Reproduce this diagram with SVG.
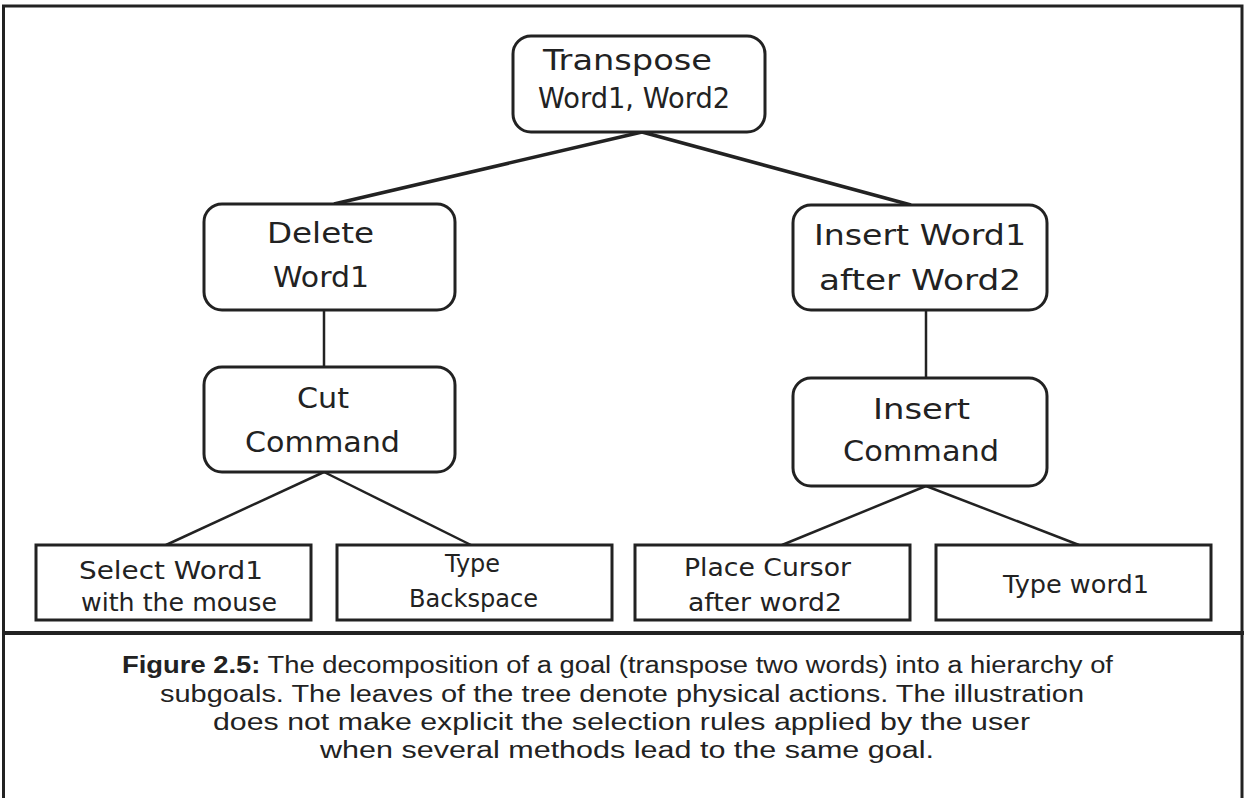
<svg xmlns="http://www.w3.org/2000/svg" width="1246" height="798" viewBox="0 0 1246 798">
<style>
.frame{fill:none;stroke:#222;stroke-width:3}
.sep{stroke:#222;stroke-width:4}
.node{fill:#fff;stroke:#222;stroke-width:3}
.leaf{fill:#fff;stroke:#222;stroke-width:3}
.edge{stroke:#222;stroke-width:2.5;fill:none}
.edgeT{stroke:#222;stroke-width:3.5;fill:none}
.nt{font-family:"DejaVu Sans","Liberation Sans",sans-serif;font-size:29px;fill:#222}
.lt{font-family:"DejaVu Sans","Liberation Sans",sans-serif;font-size:24px;fill:#222}
.cap{font-family:"Liberation Sans",Arial,sans-serif;font-size:23px;fill:#222}
</style>
<rect x="0" y="0" width="1246" height="798" fill="#fff"/>
<rect class="frame" x="3.5" y="6" width="1238.5" height="800"/>
<line class="sep" x1="2" y1="633" x2="1244" y2="633"/>
<g id="connectors">
<line class="edgeT" x1="642" y1="132" x2="334" y2="204"/>
<line class="edgeT" x1="642" y1="132" x2="911" y2="205"/>
<line class="edge" x1="324" y1="310" x2="324" y2="367"/>
<line class="edge" x1="926" y1="310" x2="926" y2="378"/>
<line class="edge" x1="324" y1="472" x2="166" y2="545"/>
<line class="edge" x1="324" y1="472" x2="471" y2="545"/>
<line class="edge" x1="926" y1="486" x2="782" y2="545"/>
<line class="edge" x1="926" y1="486" x2="1079" y2="545"/>
</g>
<g id="n-transpose">
<rect class="node" x="513" y="36" width="252" height="96" rx="18"/>
<text class="nt" x="543" y="70" textLength="169" lengthAdjust="spacingAndGlyphs">Transpose</text>
<text class="nt" x="538" y="108" textLength="192" lengthAdjust="spacingAndGlyphs">Word1, Word2</text>
</g>
<g id="n-delete">
<rect class="node" x="204" y="204" width="251" height="106" rx="18"/>
<text class="nt" x="267" y="243" textLength="107" lengthAdjust="spacingAndGlyphs">Delete</text>
<text class="nt" x="273" y="287" textLength="96" lengthAdjust="spacingAndGlyphs">Word1</text>
</g>
<g id="n-insertword">
<rect class="node" x="793" y="205" width="254" height="105" rx="18"/>
<text class="nt" x="814" y="245" textLength="212" lengthAdjust="spacingAndGlyphs">Insert Word1</text>
<text class="nt" x="819" y="290" textLength="202" lengthAdjust="spacingAndGlyphs">after Word2</text>
</g>
<g id="n-cut">
<rect class="node" x="204" y="367" width="251" height="105" rx="18"/>
<text class="nt" x="297" y="408" textLength="52" lengthAdjust="spacingAndGlyphs">Cut</text>
<text class="nt" x="245" y="452" textLength="155" lengthAdjust="spacingAndGlyphs">Command</text>
</g>
<g id="n-insertcmd">
<rect class="node" x="793" y="378" width="254" height="108" rx="18"/>
<text class="nt" x="873" y="419" textLength="97" lengthAdjust="spacingAndGlyphs">Insert</text>
<text class="nt" x="843" y="461" textLength="156" lengthAdjust="spacingAndGlyphs">Command</text>
</g>
<g id="l-select">
<rect class="leaf" x="36" y="545" width="275" height="75"/>
<text class="lt" x="79" y="579" textLength="184" lengthAdjust="spacingAndGlyphs">Select Word1</text>
<text class="lt" x="81" y="611" textLength="196" lengthAdjust="spacingAndGlyphs">with the mouse</text>
</g>
<g id="l-backspace">
<rect class="leaf" x="337" y="545" width="275" height="75"/>
<text class="lt" x="445" y="572" textLength="55" lengthAdjust="spacingAndGlyphs">Type</text>
<text class="lt" x="409" y="607" textLength="129" lengthAdjust="spacingAndGlyphs">Backspace</text>
</g>
<g id="l-place">
<rect class="leaf" x="635" y="545" width="275" height="75"/>
<text class="lt" x="684" y="576" textLength="167" lengthAdjust="spacingAndGlyphs">Place Cursor</text>
<text class="lt" x="688" y="611" textLength="154" lengthAdjust="spacingAndGlyphs">after word2</text>
</g>
<g id="l-typeword">
<rect class="leaf" x="936" y="545" width="275" height="75"/>
<text class="lt" x="1003" y="593" textLength="146" lengthAdjust="spacingAndGlyphs">Type word1</text>
</g>
<g id="caption">
<text class="cap" x="122" y="673" textLength="991" lengthAdjust="spacingAndGlyphs"><tspan font-weight="bold">Figure 2.5:</tspan>  The decomposition of a goal (transpose two words) into a hierarchy of</text>
<text class="cap" x="160" y="702" textLength="924" lengthAdjust="spacingAndGlyphs">subgoals.  The leaves of the tree denote physical actions.  The illustration</text>
<text class="cap" x="213" y="730" textLength="817" lengthAdjust="spacingAndGlyphs">does not make explicit the selection rules applied by the user</text>
<text class="cap" x="320" y="758" textLength="614" lengthAdjust="spacingAndGlyphs">when several methods lead to the same goal.</text>
</g>
</svg>
